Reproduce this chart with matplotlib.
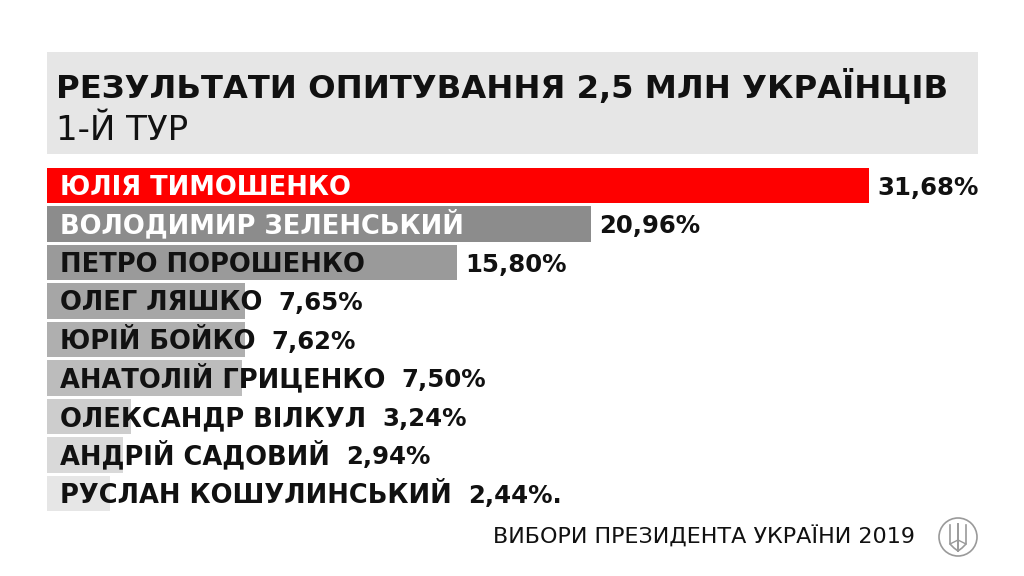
import matplotlib
matplotlib.use("Agg")
import matplotlib.pyplot as plt
from matplotlib.patches import Rectangle, Circle

names = ["ЮЛІЯ ТИМОШЕНКО", "ВОЛОДИМИР ЗЕЛЕНСЬКИЙ", "ПЕТРО ПОРОШЕНКО", "ОЛЕГ ЛЯШКО",
         "ЮРІЙ БОЙКО", "АНАТОЛІЙ ГРИЦЕНКО", "ОЛЕКСАНДР ВІЛКУЛ", "АНДРІЙ САДОВИЙ",
         "РУСЛАН КОШУЛИНСЬКИЙ"]
values = [31.68, 20.96, 15.80, 7.65, 7.62, 7.50, 3.24, 2.94, 2.44]
value_labels = ["31,68%", "20,96%", "15,80%", "7,65%", "7,62%", "7,50%", "3,24%", "2,94%", "2,44%."]
bar_colors = ["#fe0000", "#8c8c8c", "#9a9a9a", "#a6a6a6", "#afafaf", "#bcbcbc",
              "#cdcdcd", "#d9d9d9", "#e6e6e6"]
name_colors = ["white", "white"] + ["#111111"] * 7
title = "РЕЗУЛЬТАТИ ОПИТУВАННЯ 2,5 МЛН УКРАЇНЦІВ"
subtitle = "1-Й ТУР"
footer = "ВИБОРИ ПРЕЗИДЕНТА УКРАЇНИ 2019"

W, H = 1024, 576
fig = plt.figure(figsize=(W / 100, H / 100), dpi=100)
fig.patch.set_facecolor("white")

def fx(px):
    return px / W

def fy(py):
    return 1 - py / H

# background / title box
bg = fig.add_axes([0, 0, 1, 1], zorder=0)
bg.set_xlim(0, W)
bg.set_ylim(H, 0)
bg.axis("off")
bg.add_patch(Rectangle((47, 52), 931, 102, facecolor="#e6e6e6", edgecolor="none"))
bg.text(56, 97, title, fontsize=23.2, fontweight="bold", color="#111111",
        va="baseline", ha="left", family="DejaVu Sans")
bg.text(56, 140, subtitle, fontsize=24.5, color="#111111", va="baseline", ha="left",
        family="DejaVu Sans")
bg.text(915, 544, footer, fontsize=16, color="#111111", va="baseline", ha="right",
        family="DejaVu Sans")
# emblem
bg.add_patch(Circle((958, 537), 19, facecolor="white", edgecolor="#9a9a9a", lw=1.2))
ec = "#9a9a9a"
bg.plot([958, 958], [524, 551], color=ec, lw=1.4)
bg.plot([950, 950, 954, 958, 962, 966, 966], [525, 544, 548, 551, 548, 544, 525], color=ec, lw=1.2)
bg.plot([950, 958, 966], [544, 540, 544], color=ec, lw=1.0)

# bar axes
px_per_unit = 822 / 31.68
xmax = 37
left_px, top_px, bot_px = 47, 166.25, 512.75
ax = fig.add_axes([fx(left_px), fy(bot_px), fx(xmax * px_per_unit), (bot_px - top_px) / H], zorder=1)
ax.set_xlim(0, xmax)
ax.set_ylim(len(names) - 0.5, -0.5)
ax.axis("off")
ax.patch.set_alpha(0)

ypos = list(range(len(names)))
ax.barh(ypos, values, height=0.92, color=bar_colors, edgecolor="none")

fig.canvas.draw()
renderer = fig.canvas.get_renderer()
for i, (n, v, vl) in enumerate(zip(names, values, value_labels)):
    t = ax.annotate(n, xy=(0, i), xytext=(9.5, -6.8), textcoords="offset points",
                    fontsize=18.5, fontweight="bold", color=name_colors[i],
                    va="baseline", ha="left", family="DejaVu Sans")
    bb = t.get_window_extent(renderer)
    name_end_px = bb.x1
    bar_end_px = ax.transData.transform((v, i))[0]
    start_px = max(bar_end_px + 8, name_end_px + 16)
    xd = ax.transData.inverted().transform((start_px, 0))[0]
    ax.annotate(vl, xy=(xd, i), xytext=(0, -6.6), textcoords="offset points",
                fontsize=17.6, fontweight="bold", color="#111111",
                va="baseline", ha="left", family="DejaVu Sans")

fig.savefig("out.png", dpi=100, facecolor="white")
